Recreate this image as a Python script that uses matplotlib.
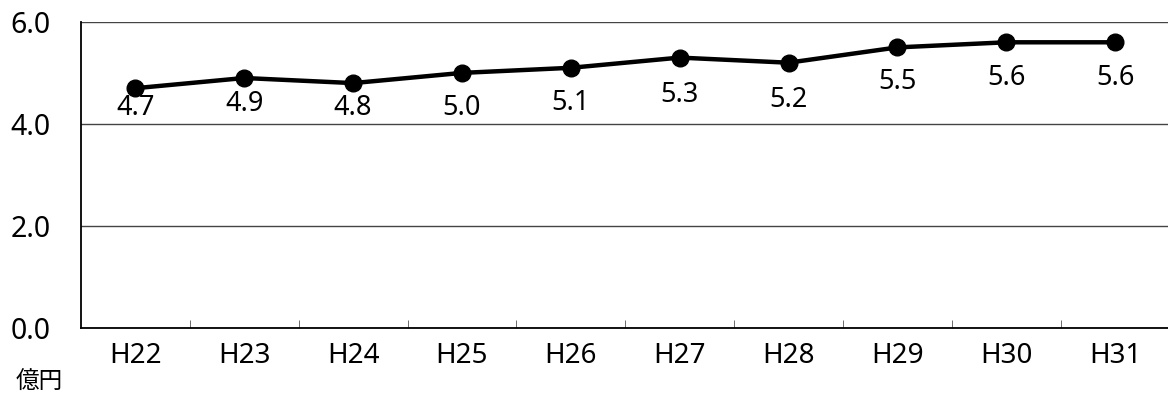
import matplotlib.pyplot as plt

plt.rcParams['font.family'] = ['Noto Sans', 'Noto Sans CJK JP', 'DejaVu Sans']

years = ['H22', 'H23', 'H24', 'H25', 'H26', 'H27', 'H28', 'H29', 'H30', 'H31']
values = [4.7, 4.9, 4.8, 5.0, 5.1, 5.3, 5.2, 5.5, 5.6, 5.6]
yticks = [0.0, 2.0, 4.0, 6.0]

# label offsets below the points (points), as placed in the original
label_dy = [-14, -19, -18, -25, -25, -27, -27, -25, -26, -26]

fig = plt.figure(figsize=(11.68, 3.98), dpi=100)
ax = fig.add_axes([0.0693, 0.176, 0.932, 0.769])

x = list(range(len(years)))
ax.plot(x, values, color='black', lw=3.2, marker='o', ms=12, zorder=3)
for xi, v, dy in zip(x, values, label_dy):
    ax.annotate(f'{v:.1f}', (xi, v), xytext=(0, dy), textcoords='offset points',
                ha='center', va='center', fontsize=19.5)

ax.set_xlim(-0.5, len(years) - 0.5)
ax.set_ylim(0, 6)
ax.set_yticks(yticks)
ax.set_yticklabels([f'{t:.1f}' for t in yticks], fontsize=20.5)
ax.tick_params(axis='y', length=0, pad=22)
ax.set_xticks(x)
ax.set_xticklabels(years, fontsize=20)
ax.tick_params(axis='x', length=0, pad=10)
ax.set_xticks([i + 0.5 for i in x[:-1]], minor=True)
ax.tick_params(axis='x', which='minor', direction='in', length=6, color='#555555')

ax.grid(True, axis='y', color='#444444', lw=1)
ax.set_axisbelow(True)
for s in ['top', 'right']:
    ax.spines[s].set_visible(False)
ax.spines['left'].set_linewidth(1.3)
ax.spines['bottom'].set_linewidth(1.3)

fig.text(0.013, 0.038, '億円', fontsize=17, ha='left', va='center')

fig.savefig('out.png')
